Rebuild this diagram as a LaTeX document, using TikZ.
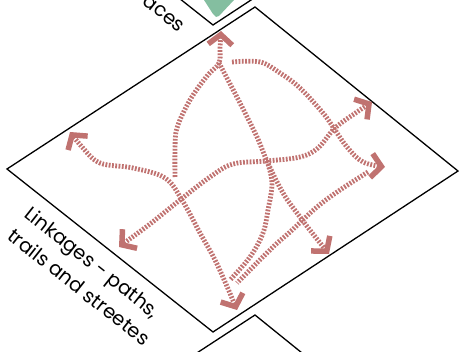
\documentclass[tikz,border=0pt]{standalone}
\usepackage{fontspec}
\setmainfont{Poppins}
\usetikzlibrary{arrows.meta}
\definecolor{linkred}{RGB}{192,114,112}
\definecolor{mint}{RGB}{132,190,160}
\begin{document}
\begin{tikzpicture}[x=1pt,y=-1pt,
  outline/.style={draw=black,line width=1.3pt,line join=miter},
  trail/.style={draw=linkred,line width=4.8pt,dash pattern=on 1.8pt off 1.5pt},
  headend/.style={-{Straight Barb[length=10pt,width=24pt,line width=5.5pt]}},
  headboth/.style={{Straight Barb[length=10pt,width=24pt,line width=5.5pt]}-{Straight Barb[length=10pt,width=24pt,line width=5.5pt]}},
  lbl/.style={font=\fontsize{19.5}{22}\selectfont,inner sep=0pt,rotate=-38.35,anchor=base west}]
\useasboundingbox (0,0) rectangle (459,352);
\clip (0,0) rectangle (459,352);
% diamonds
\draw[outline] (255,-300) -- (458,-136) -- (213,25) -- (7,-138) -- cycle;
\fill[mint] (204,0) -- (234,0) -- (219,16) -- (216,17) -- (213,14) -- cycle;
\draw[outline] (255,7) -- (458,171) -- (213,332) -- (7,169) -- cycle;
\draw[outline] (255,315) -- (458,479) -- (213,640) -- (7,477) -- cycle;
% labels
\node[lbl,anchor=base east] (lab0) at (179,33) {aces};
\node[lbl] (lab1) at (23,216) {Linkages - paths,};
\node[lbl] (lab2) at (6,238) {trails and streetes};
% ends
\coordinate (tipL) at (70,132);
\coordinate (tipB) at (237,310);
\coordinate (tipBL) at (119,247);
\coordinate (tipUR) at (372,102);
\coordinate (tipT) at (221,31);
\coordinate (tipBR) at (329,254);
\coordinate (tipR) at (385,167);
\coordinate (jTop) at (219,63);
\coordinate (jMid) at (267,161);
% trails
\draw[trail,headboth] plot[smooth,tension=0.6] coordinates {(tipL) (82,147) (100,163) (133,168) (165,178) (182,200) (200,233) (217,264) (tipB)};
\draw[trail,headboth] plot[smooth,tension=0.6] coordinates {(tipBL) (127,241) (150,224) (180,200) (210,177) (233,164) (jMid) (300,157) (318,148) (335,128) (357,112) (tipUR)};
\draw[trail,headend] plot[smooth,tension=0.6] coordinates {(175,177) (175,150) (177,128) (190,100) (207,76) (jTop) (220,48) (tipT)};
\draw[trail,headend] plot[smooth,tension=0.6] coordinates {(jTop) (240,103) (257,137) (jMid) (283,193) (300,217) (313,234) (tipBR)};
\draw[trail] plot[smooth,tension=0.6] coordinates {(jMid) (272,183) (268,210) (263,233) (250,257) (230,280)};
\draw[trail,headend] plot[smooth,tension=0.6] coordinates {(232,62) (260,62) (280,73) (300,88) (323,113) (333,127) (347,147) (363,162) (tipR)};
\draw[trail] plot[smooth,tension=0.6] coordinates {(368,172) (340,190) (317,207) (290,232) (273,247) (237,283)};
\end{tikzpicture}
\end{document}
